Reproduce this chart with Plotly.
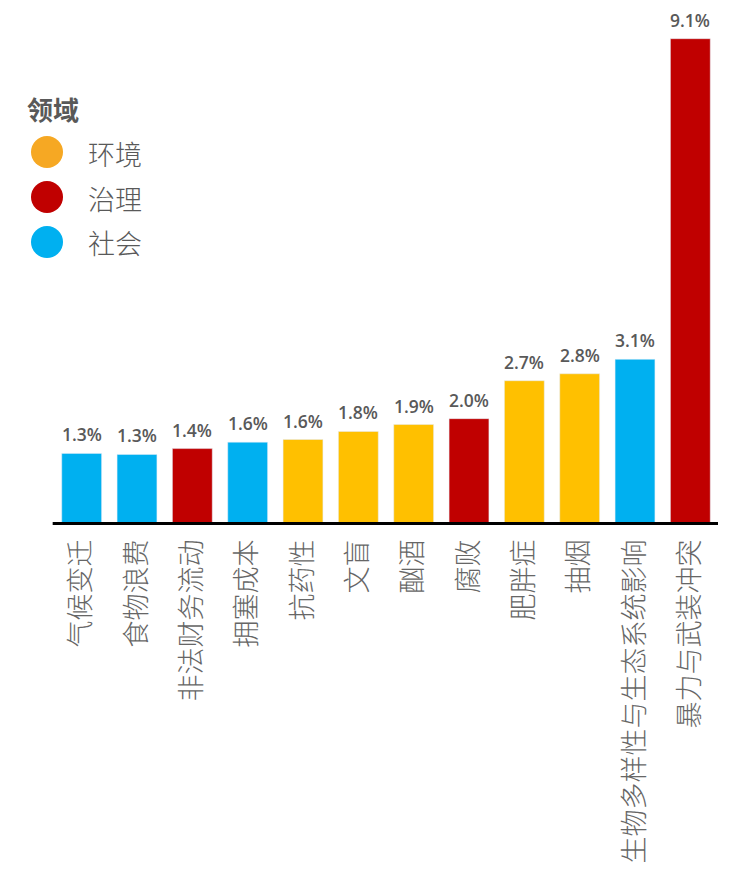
import plotly.graph_objects as go

CATEGORIES = ["气候变迁", "食物浪费", "非法财务流动", "拥塞成本", "抗药性", "文盲",
              "酗酒", "腐败", "肥胖症", "抽烟", "生物多样性与生态系统影响", "暴力与武装冲突"]
VALUES = [1.34, 1.32, 1.43, 1.55, 1.60, 1.75, 1.88, 1.99, 2.70, 2.83, 3.10, 9.1]
LABELS = ["1.3%", "1.3%", "1.4%", "1.6%", "1.6%", "1.8%", "1.9%", "2.0%", "2.7%", "2.8%", "3.1%", "9.1%"]
DOMAINS = ["社会", "社会", "治理", "社会", "环境", "环境", "环境", "治理", "环境", "环境", "社会", "治理"]

DOMAIN_ORDER = ["环境", "治理", "社会"]
BAR_COLORS = {"环境": "#FFC000", "治理": "#C00000", "社会": "#00B0F0"}
LEGEND_COLORS = {"环境": "#F6A823", "治理": "#C00000", "社会": "#00B0F0"}

NUM_FONT = "'Open Sans', Roboto, sans-serif"
CJK = "'Noto Sans CJK SC', sans-serif"
TEXT = "#595959"

# the page body adds an 8px margin, so the figure is 8px smaller than the window
W, H = 724, 863
L, R, T, B = 46, 14, 12, 346


def px(x):
    return (x - L) / (W - L - R)


def py(y):
    return (H - B - y) / (H - T - B)


fig = go.Figure(go.Bar(
    x=CATEGORIES, y=VALUES,
    marker_color=[BAR_COLORS[d] for d in DOMAINS],
    showlegend=False, hoverinfo="x+y",
))

# value labels above bars
for cat, v, lab in zip(CATEGORIES, VALUES, LABELS):
    fig.add_annotation(x=cat, y=v, text=lab, showarrow=False,
                       yanchor="bottom", yshift=5,
                       font=dict(family=NUM_FONT, size=17.5, color=TEXT, weight=600))

# thick baseline
fig.add_shape(type="line", xref="paper", yref="y", x0=-0.002, x1=1.0, y0=0, y1=0,
              line=dict(color="black", width=6), layer="above")

# legend drawn by hand: large round markers
fig.add_annotation(xref="paper", yref="paper", x=px(17), y=py(100), xanchor="left",
                   yanchor="middle", text="<b>领域</b>", showarrow=False,
                   font=dict(family=CJK, size=26, color=TEXT))
for i, d in enumerate(DOMAIN_ORDER):
    yc = 144 + 45 * i
    fig.add_shape(type="circle", xref="paper", yref="paper",
                  xsizemode="pixel", ysizemode="pixel",
                  xanchor=px(39), yanchor=py(yc),
                  x0=-16, x1=16, y0=-16, y1=16,
                  fillcolor=LEGEND_COLORS[d], line=dict(width=0))
    fig.add_annotation(xref="paper", yref="paper", x=px(78), y=py(yc + 1), xanchor="left",
                       yanchor="middle", text=d, showarrow=False,
                       font=dict(family=CJK, size=27, color=TEXT, weight=300))

fig.update_layout(
    width=W, height=H,
    margin=dict(l=L, r=R, t=T, b=B, autoexpand=False),
    paper_bgcolor="white", plot_bgcolor="white",
    bargap=0.28,
    font=dict(family=NUM_FONT, color=TEXT),
)
fig.update_xaxes(tickangle=-90, ticklabelstandoff=8, showgrid=False, showline=False,
                 automargin=False,
                 tickfont=dict(family=CJK, size=27, color="#666666", weight=300))
fig.update_yaxes(range=[0, 9.45], visible=False, automargin=False)

fig.write_html("out.html")
